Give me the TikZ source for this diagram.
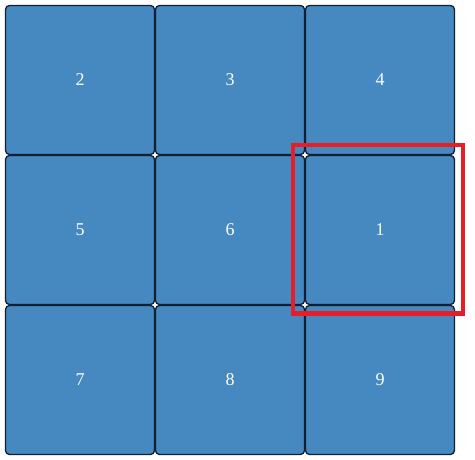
\documentclass[tikz,border=0pt]{standalone}
\usepackage{fontspec}
\setmainfont{Liberation Serif}
\definecolor{cellblue}{RGB}{70,136,192}
\definecolor{celledge}{RGB}{16,32,52}
\definecolor{hired}{RGB}{230,30,40}
\begin{document}
\begin{tikzpicture}[x=1pt,y=-1pt,
  cell/.style={draw=celledge,line width=1.3pt,fill=cellblue,rounded corners=4pt,
    minimum width=149pt,minimum height=149pt,inner sep=0pt,
    text=white,font=\fontsize{18}{20}\selectfont},
  hilite/.style={draw=hired,line width=4pt,fill=none,inner sep=0pt,
    minimum width=170pt,minimum height=168pt}]
\useasboundingbox (0,0) rectangle (475,460);
\node[cell] (c2) at (80,80) {2};
\node[cell] (c3) at (230,80) {3};
\node[cell] (c4) at (380,80) {4};
\node[cell] (c5) at (80,230) {5};
\node[cell] (c6) at (230,230) {6};
\node[cell] (c1) at (380,230) {1};
\node[cell] (c7) at (80,380) {7};
\node[cell] (c8) at (230,380) {8};
\node[cell] (c9) at (380,380) {9};
\node[hilite] (sel) at (377.5,229.5) {};
\end{tikzpicture}
\end{document}
